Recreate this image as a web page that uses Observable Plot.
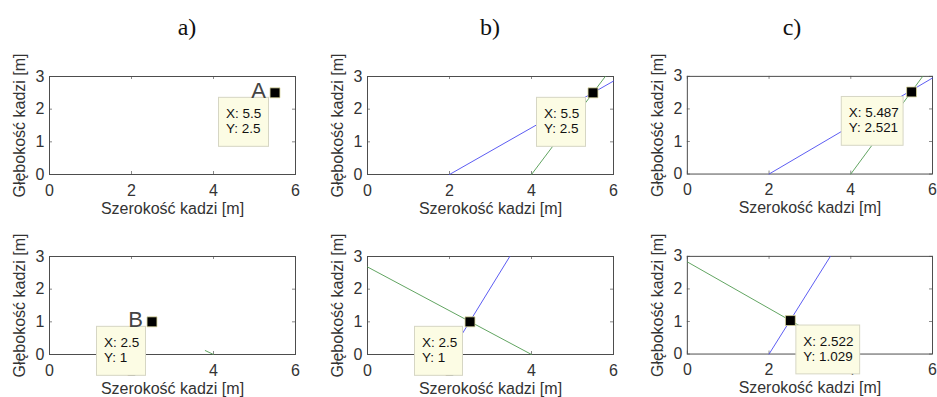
<!DOCTYPE html>
<html><head><meta charset="utf-8">
<script src="https://cdn.jsdelivr.net/npm/d3@7"></script>
<script src="https://cdn.jsdelivr.net/npm/@observablehq/plot@0.6"></script>
<style>
body{margin:0;background:#fff;overflow:hidden;}
#root{position:relative;width:937px;height:397px;overflow:hidden;font-family:"Liberation Sans",Arial,sans-serif;}
.panel{position:absolute;}
.panel svg{overflow:visible;}
.title{position:absolute;font-family:"Liberation Serif","Times New Roman",serif;font-size:24px;line-height:24px;transform:translateX(-50%);color:#111;white-space:nowrap;}
</style></head><body><div id="root"></div>
<script>
// ---- data ----
const xTicks = [0, 2, 4, 6];
const yTicks = [0, 1, 2, 3];
const columnTitles = ["a)", "b)", "c)"];
const panelIds = ["a1", "b1", "c1", "a2", "b2", "c2"];
const tipX = {a1: 5.5, b1: 5.5, c1: 5.487, a2: 2.5, b2: 2.5, c2: 2.522};
const tipY = {a1: 2.5, b1: 2.5, c1: 2.521, a2: 1, b2: 1, c2: 1.029};
const pointLetter = {a1: "A", a2: "B"};
const blueX = {b1: [2, 6], c1: [2, 6], b2: [2, 3.47], c2: [2, 3.5]};
const blueY = {b1: [0, 2.86], c1: [0, 2.95], b2: [0, 3], c2: [0, 3]};
const greenX = {b1: [4, 5.8], c1: [4, 5.76], a2: [3.8, 4], b2: [0, 4], c2: [0, 3.96]};
const greenY = {b1: [0, 3], c1: [0, 3], a2: [0.12, 0], b2: [2.68, 0], c2: [2.83, 0]};
const xLabel = "Szerokość kadzi [m]";
const yLabel = "Głębokość kadzi [m]";

// ---- layout / style ----
const frameW = 246, frameH = 98, mL = 49, mR = 5, mT = 36, mB = 42;
const colLeft = [0, 318, 638];
const rowTop = [40, 220];
const titleCenter = [187, 490, 792];
const titleTop = 15;
const tipBox = {a1: [-56, -6], b1: [-56, -7], c1: [-70, -8], a2: [-55, -6], b2: [-55, -7], c2: [6, 70]};
const blueColor = "#4a4af0", greenColor = "#4f9a4f";
const font = "Liberation Sans, Arial, sans-serif";

const root = document.getElementById("root");

columnTitles.forEach((t, i) => {
  const d = document.createElement("div");
  d.className = "title";
  d.textContent = t;
  d.style.left = titleCenter[i] + "px";
  d.style.top = titleTop + "px";
  root.appendChild(d);
});

function pts(xs, ys) { return xs.map((v, i) => ({x: v, y: ys[i]})); }

panelIds.forEach((id, k) => {
  const col = k % 3, row = Math.floor(k / 3);
  const marks = [
    Plot.ruleX(xTicks, {x: d => d, insetTop: frameH - 3, stroke: "#888"}),
    Plot.ruleX(xTicks, {x: d => d, insetBottom: frameH - 3, stroke: "#888"}),
    Plot.ruleY(yTicks, {y: d => d, insetRight: frameW - 3, stroke: "#888"}),
    Plot.ruleY(yTicks, {y: d => d, insetLeft: frameW - 3, stroke: "#888"}),
    Plot.frame({stroke: "#4d4d4d", strokeWidth: 1}),
    Plot.text(xTicks, {x: d => d, frameAnchor: "bottom", dy: 16, lineAnchor: "middle", textAnchor: "middle", text: d => String(d), fontSize: 16, fill: "#333"}),
    Plot.text(yTicks, {y: d => d, frameAnchor: "left", dx: -5, lineAnchor: "middle", textAnchor: "end", text: d => String(d), fontSize: 16, fill: "#333"}),
    Plot.text([xLabel], {frameAnchor: "bottom", dy: 34, lineAnchor: "middle", textAnchor: "middle", text: d => d, fontSize: 16, fill: "#333"}),
    Plot.text([yLabel], {frameAnchor: "left", dx: -30, rotate: -90, lineAnchor: "middle", textAnchor: "middle", text: d => d, fontSize: 16, fill: "#333"})
  ];
  if (blueX[id]) marks.push(Plot.line(pts(blueX[id], blueY[id]), {x: "x", y: "y", stroke: blueColor, strokeWidth: 0.9}));
  if (greenX[id]) marks.push(Plot.line(pts(greenX[id], greenY[id]), {x: "x", y: "y", stroke: greenColor, strokeWidth: 0.9}));
  const [bl, br] = tipBox[id];
  const tip = [{x: tipX[id], y: tipY[id]}];
  marks.push(
    Plot.rect(tip, {x1: "x", x2: "x", y1: "y", y2: "y", insetLeft: bl, insetRight: -br, insetTop: 5, insetBottom: -54,
      fill: "#fcfce4", stroke: "#d6d6c4", strokeWidth: 1}),
    Plot.text(tip, {x: "x", y: "y", text: d => "X: " + String(d.x), dx: bl + 7, dy: 21, lineAnchor: "middle", textAnchor: "start", fontSize: 13.5, fill: "#111"}),
    Plot.text(tip, {x: "x", y: "y", text: d => "Y: " + String(d.y), dx: bl + 7, dy: 36, lineAnchor: "middle", textAnchor: "start", fontSize: 13.5, fill: "#111"}),
    Plot.dot(tip, {x: "x", y: "y", symbol: "square", r: 5.6, fill: "#000", stroke: "#d8d49a", strokeWidth: 0.8})
  );
  if (pointLetter[id]) marks.push(Plot.text(tip, {x: "x", y: "y", text: () => pointLetter[id], dx: -9, dy: -2, lineAnchor: "middle", textAnchor: "end", fontSize: 22, fill: "#444"}));

  const svg = Plot.plot({
    width: mL + frameW + mR,
    height: mT + frameH + mB,
    marginLeft: mL, marginRight: mR, marginTop: mT, marginBottom: mB,
    x: {domain: [0, 6], axis: null},
    y: {domain: [0, 3], axis: null},
    style: {fontFamily: font, background: "transparent", overflow: "visible"},
    marks
  });
  const wrap = document.createElement("div");
  wrap.className = "panel";
  wrap.style.left = colLeft[col] + "px";
  wrap.style.top = rowTop[row] + "px";
  wrap.appendChild(svg);
  root.appendChild(wrap);
});
</script>
</body></html>
